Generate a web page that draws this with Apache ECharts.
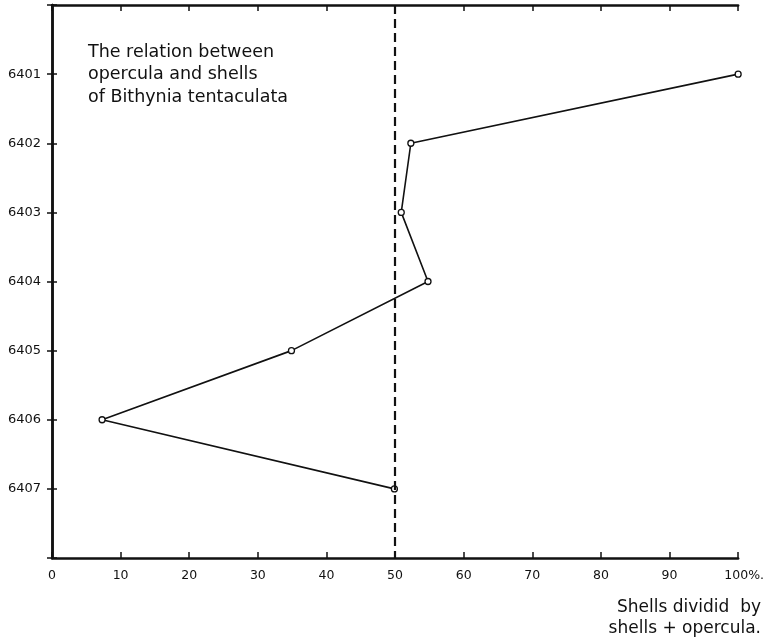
<!DOCTYPE html>
<html><head><meta charset="utf-8">
<script src="https://cdn.jsdelivr.net/npm/echarts@6/dist/echarts.min.js"></script>
<style>html,body{margin:0;padding:0;background:#fff}#c{width:767px;height:637px}</style>
</head><body><div id="c"></div>
<script>
const samples = [6401, 6402, 6403, 6404, 6405, 6406, 6407];
const shellRatio = [100, 52.3, 50.9, 54.8, 34.9, 7.3, 49.9];
const xTicks = [0, 10, 20, 30, 40, 50, 60, 70, 80, 90, 100];
const refLine = 50;
const titleText = 'The relation between\nopercula and shells\nof Bithynia tentaculata';
const axisTitle = ['Shells dividid  by', 'shells + opercula.'];

const font = 'DejaVu Sans';
const chart = echarts.init(document.getElementById('c'), null, {renderer: 'canvas'});
const axisLine = {show: true, lineStyle: {color: '#111', width: 2.5}};
chart.setOption({
  animation: false,
  backgroundColor: '#fff',
  textStyle: {fontFamily: font},
  title: {
    text: titleText, left: 83, top: 36,
    textStyle: {fontFamily: font, fontSize: 17.5, fontWeight: 'normal', color: '#111', lineHeight: 22.5}
  },
  grid: {left: 52, right: 28, top: 5, bottom: 79},
  xAxis: [{
    type: 'value', min: 0, max: 100, interval: 10, position: 'bottom',
    axisLine: axisLine,
    axisTick: {show: true, inside: true, length: 6, lineStyle: {color: '#111', width: 1.5}},
    splitLine: {show: false},
    axisLabel: {
      color: '#111', fontSize: 12.5, margin: 11, fontFamily: font,
      formatter: v => xTicks.indexOf(v) >= 0 ? (v === 100 ? '{pad|}{v|100%.}' : String(v)) : '',
      rich: {pad: {width: 12}, v: {fontSize: 12.5, color: '#111', fontFamily: font}}
    }
  }, {
    type: 'value', min: 0, max: 100, interval: 10, position: 'top',
    axisLine: axisLine,
    axisTick: {show: true, inside: true, length: 6, lineStyle: {color: '#111', width: 1.5}},
    splitLine: {show: false}, axisLabel: {show: false}
  }],
  yAxis: [{
    type: 'value', min: 6400, max: 6408, interval: 1, inverse: true, position: 'left',
    axisLine: axisLine,
    axisTick: {show: true, inside: true, length: 5, lineStyle: {color: '#111', width: 1.5}},
    splitLine: {show: false},
    axisLabel: {
      color: '#111', fontSize: 13, margin: 11, fontFamily: font,
      formatter: v => samples.indexOf(v) >= 0 ? String(v) : ''
    }
  }, {
    type: 'value', min: 6400, max: 6408, interval: 1, inverse: true, position: 'right',
    axisLine: axisLine,
    axisTick: {show: true, inside: true, length: 5, lineStyle: {color: '#111', width: 1.5}},
    splitLine: {show: false}, axisLabel: {show: false}
  }],
  series: [{
    type: 'line',
    xAxisIndex: 0, yAxisIndex: 0,
    data: samples.map((s, i) => [shellRatio[i], s]),
    symbol: 'circle', symbolSize: 6,
    itemStyle: {color: '#fff', borderColor: '#111', borderWidth: 1.3},
    lineStyle: {color: '#111', width: 1.6},
    markLine: {
      silent: true, symbol: ['none', 'none'], label: {show: false},
      lineStyle: {color: '#111', width: 2.2, type: [9, 5]},
      data: [{xAxis: refLine}]
    }
  }],
  graphic: [{
    type: 'text', right: 6, top: 599,
    style: {text: axisTitle[0], fill: '#111', font: '17px "DejaVu Sans"', textAlign: 'right'}
  }, {
    type: 'text', right: 6, top: 620,
    style: {text: axisTitle[1], fill: '#111', font: '17px "DejaVu Sans"', textAlign: 'right'}
  }]
});
</script></body></html>
